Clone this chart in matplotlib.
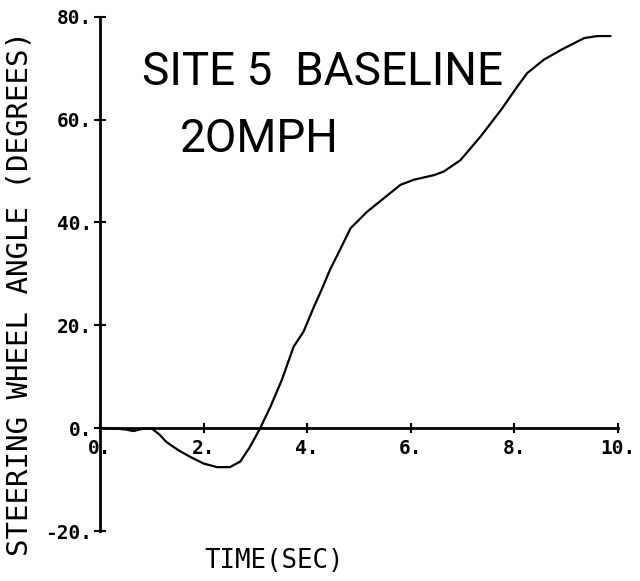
import matplotlib
matplotlib.use("Agg")
import matplotlib.pyplot as plt

# Data
time_s = [0.0, 0.3, 0.5, 0.65, 0.8, 1.0, 1.15, 1.28, 1.51, 1.74, 2.0, 2.26, 2.51,
          2.71, 2.9, 3.09, 3.29, 3.51, 3.74, 3.93, 4.13, 4.29, 4.45, 4.61, 4.84,
          5.16, 5.48, 5.80, 6.06, 6.45, 6.64, 6.96, 7.35, 7.74, 8.06, 8.25, 8.57,
          8.90, 9.35, 9.6, 9.86]
angle_deg = [0.0, 0.0, -0.2, -0.5, -0.1, 0.0, -1.2, -2.6, -4.2, -5.5, -6.8, -7.5, -7.5,
             -6.4, -3.5, 0.0, 4.2, 9.4, 15.9, 18.8, 23.6, 27.2, 31.0, 34.2, 38.9,
             42.1, 44.7, 47.3, 48.3, 49.2, 49.9, 52.1, 56.7, 61.8, 66.4, 69.0, 71.6,
             73.5, 75.8, 76.2, 76.2]

x_ticks = [0, 2, 4, 6, 8, 10]
x_tick_labels = ["0.", "2.", "4.", "6.", "8.", "10."]
y_ticks = [-20, 0, 20, 40, 60, 80]
y_tick_labels = ["-20.", "0.", "20.", "40.", "60.", "80."]

x_label = "TIME(SEC)"
y_label = "STEERING WHEEL ANGLE (DEGREES)"
note_line1 = "SITE 5  BASELINE"
note_line2 = "2OMPH"

fig = plt.figure(figsize=(6.4, 5.81), dpi=100)
ax = fig.add_axes([0.1563, 0.0852, 0.809, 0.8864])

ax.plot(time_s, angle_deg, color="black", lw=1.6, solid_capstyle="round",
        solid_joinstyle="round")

ax.set_xlim(0, 10)
ax.set_ylim(-20, 80)
ax.spines["top"].set_visible(False)
ax.spines["right"].set_visible(False)
ax.spines["bottom"].set_position(("data", 0))
for s in ("left", "bottom"):
    ax.spines[s].set_linewidth(2.0)
    ax.spines[s].set_color("black")

mono = "DejaVu Sans Mono"
ax.set_xticks(x_ticks)
ax.set_xticklabels(x_tick_labels, fontfamily=mono, fontweight="bold", fontsize=14)
ax.set_yticks(y_ticks)
ax.set_yticklabels(y_tick_labels, fontfamily=mono, fontweight="bold", fontsize=14)
ax.tick_params(axis="x", direction="inout", length=7, width=1.5, pad=4)
ax.tick_params(axis="y", direction="inout", length=9, width=1.5, pad=1)

fig.text(274 / 640, 1 - 561 / 581, x_label, ha="center", va="center",
         fontfamily=mono, fontsize=18.5)
fig.text(20 / 640, 1 - 294 / 581, y_label, ha="center", va="center",
         rotation=90, fontfamily=mono, fontsize=21)

ax.text(0.081, 0.867, note_line1, transform=ax.transAxes, ha="left",
        va="baseline", fontfamily="Roboto", fontweight="normal", fontsize=33)
ax.text(0.154, 0.737, note_line2, transform=ax.transAxes, ha="left",
        va="baseline", fontfamily="Roboto", fontweight="normal", fontsize=33)

fig.savefig("out.png", dpi=100, facecolor="white")
